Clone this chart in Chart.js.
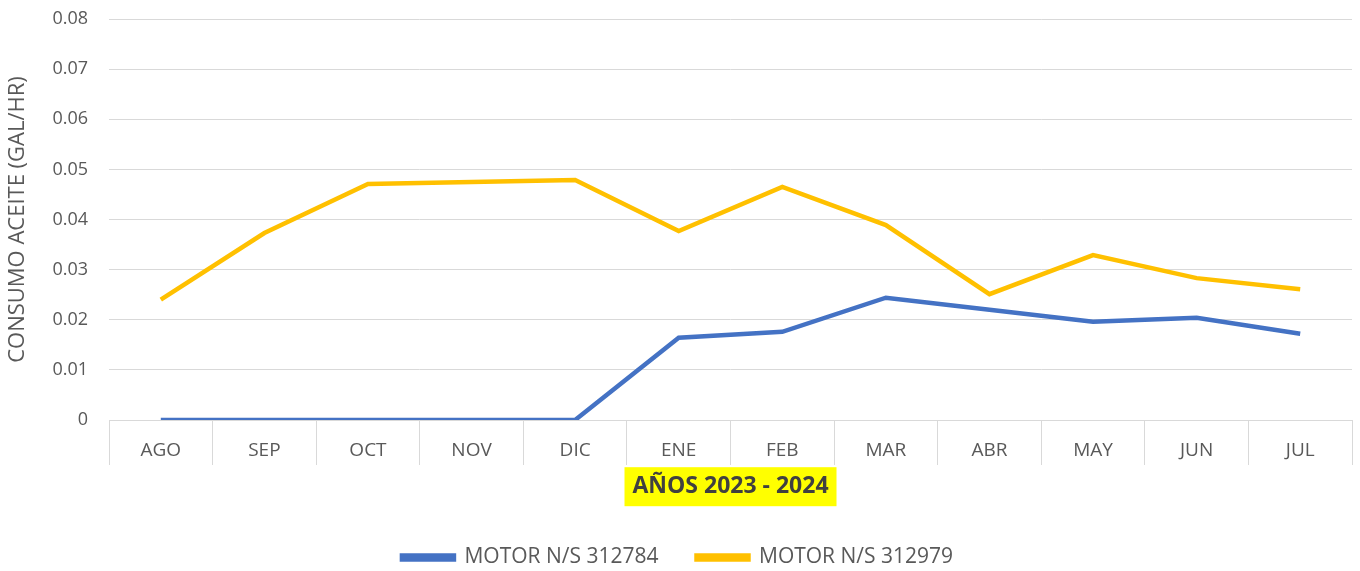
<!DOCTYPE html>
<html>
<head>
<meta charset="utf-8">
<script src="https://cdn.jsdelivr.net/npm/chart.js@4"></script>
<style>
  html, body { margin: 0; padding: 0; background: #fff; }
  #wrap { width: 1360px; height: 571px; }
</style>
</head>
<body>
<div id="wrap"><canvas id="lineChart" width="1360" height="571"></canvas></div>
<script>
const months = ['AGO', 'SEP', 'OCT', 'NOV', 'DIC', 'ENE', 'FEB', 'MAR', 'ABR', 'MAY', 'JUN', 'JUL'];
const motor312784 = [0, 0, 0, 0, 0, 0.0164, 0.0176, 0.0244, 0.0220, 0.0196, 0.0204, 0.0172];
const motor312979 = [0.0240, 0.0373, 0.0471, 0.0475, 0.0479, 0.0377, 0.0465, 0.0389, 0.0251, 0.0329, 0.0283, 0.0261];
const seriesNames = ['MOTOR N/S 312784', 'MOTOR N/S 312979'];
const yTicks = [0, 0.01, 0.02, 0.03, 0.04, 0.05, 0.06, 0.07, 0.08];

const FONT = '"Open Sans", "Noto Sans", sans-serif';
const GREY = '#595959';
const X_TITLE_SIZE = 23;
const X_TITLE_PAD = 9;
const LEGEND_GAP = 38;

// yellow box behind the x axis title
const titleHighlight = {
  id: 'titleHighlight',
  afterDraw(chart) {
    const x = chart.scales.x;
    const ctx = chart.ctx;
    const cx = (x.left + x.right) / 2;
    const cy = x.bottom - X_TITLE_PAD - X_TITLE_SIZE * 1.2 / 2;
    ctx.save();
    ctx.globalCompositeOperation = 'destination-over';
    ctx.fillStyle = '#ffff00';
    ctx.fillRect(cx - 106, cy - 19, 212, 39);
    ctx.fillStyle = '#ffffff';
    ctx.fillRect(0, 0, chart.width, chart.height);
    ctx.restore();
  }
};

// wide gap between legend items without a tall legend box
const legendHeight = {
  id: 'legendHeight',
  beforeInit(chart) {
    const legend = chart.legend;
    const fit = legend.fit;
    legend.fit = function () {
      fit.call(this);
      this.height = 62;
    };
  }
};

new Chart(document.getElementById('lineChart').getContext('2d'), {
  type: 'line',
  data: {
    labels: months,
    datasets: [{
      label: seriesNames[0],
      data: motor312784,
      borderColor: '#4472c4',
      backgroundColor: '#4472c4',
      borderWidth: 4.5,
      pointRadius: 0,
      tension: 0
    }, {
      label: seriesNames[1],
      data: motor312979,
      borderColor: '#ffc000',
      backgroundColor: '#ffc000',
      borderWidth: 4.5,
      pointRadius: 0,
      tension: 0
    }]
  },
  options: {
    responsive: false,
    animation: false,
    layout: { padding: { top: 19, right: 8, left: 3, bottom: 0 } },
    plugins: {
      legend: {
        position: 'bottom',
        labels: {
          boxWidth: 52,
          boxHeight: 4,
          padding: LEGEND_GAP,
          color: GREY,
          font: { family: FONT, size: 21 }
        }
      },
      tooltip: { enabled: false }
    },
    scales: {
      x: {
        offset: true,
        afterFit: scale => { scale.height = 89; },
        grid: {
          offset: true,
          drawOnChartArea: false,
          drawTicks: true,
          tickLength: 45,
          color: '#d9d9d9'
        },
        border: { color: '#d9d9d9' },
        ticks: {
          padding: -26,
          color: GREY,
          font: { family: FONT, size: 19 }
        },
        title: {
          display: true,
          text: 'AÑOS 2023 - 2024',
          color: '#404040',
          font: { family: FONT, size: X_TITLE_SIZE, weight: 'bold' },
          padding: { top: 0, bottom: X_TITLE_PAD }
        }
      },
      y: {
        min: 0,
        max: 0.08,
        afterBuildTicks: scale => { scale.ticks = yTicks.map(v => ({ value: v })); },
        afterFit: scale => { scale.paddingTop = 0; scale.paddingBottom = 0; },
        grid: { color: '#d9d9d9', drawTicks: false },
        border: { display: false },
        ticks: {
          padding: 21,
          color: GREY,
          font: { family: FONT, size: 18 },
          callback: value => value === 0 ? '0' : value.toFixed(2)
        },
        title: {
          display: true,
          text: 'CONSUMO ACEITE (GAL/HR)',
          color: GREY,
          font: { family: FONT, size: 22 },
          padding: { top: 2, bottom: 0 }
        }
      }
    }
  },
  plugins: [titleHighlight, legendHeight]
});
</script>
</body>
</html>
